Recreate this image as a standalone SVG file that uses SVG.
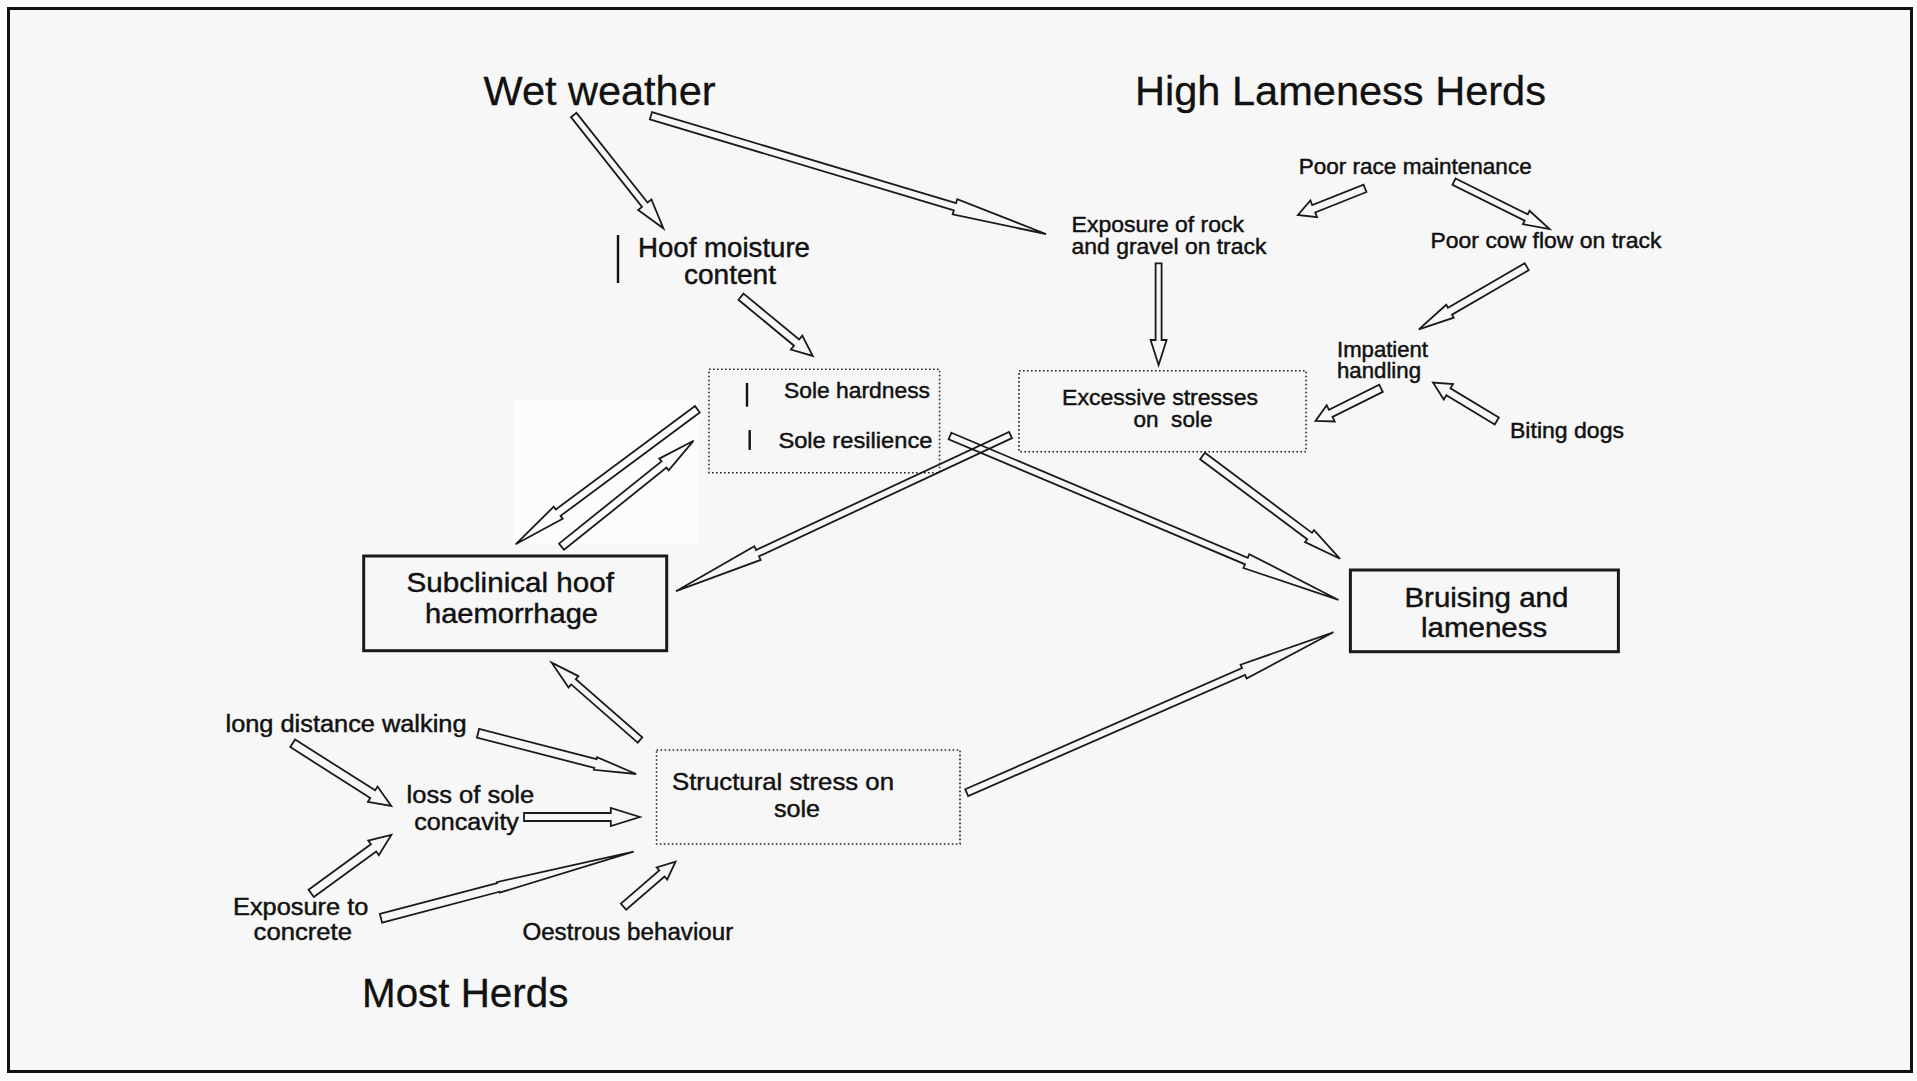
<svg xmlns="http://www.w3.org/2000/svg" width="1917" height="1081" viewBox="0 0 1917 1081">
  <style>
    .t { font-family: "Liberation Sans", Arial, Helvetica, sans-serif; fill: #111; stroke: #111; stroke-width: 0.45; }
    .title { font-size: 41px; stroke-width: 0.3; }
    .arr { fill: none; stroke: #1a1a1a; stroke-width: 1.8; stroke-linejoin: miter; }
    .dot { fill: none; stroke: #222; stroke-width: 1.6; stroke-dasharray: 1.6 2.4; }
    .solid { fill: none; stroke: #1a1a1a; stroke-width: 3; }
    .bar { stroke: #111; stroke-width: 2.4; }
  </style>

  <!-- page and frame -->
  <rect x="0" y="0" width="1917" height="1081" fill="#fbfbfb"/>
  <rect x="8.5" y="8.5" width="1903" height="1063" fill="#f7f7f7" stroke="#111" stroke-width="3"/>
  <rect x="513" y="400" width="185" height="145" fill="#fcfcfc"/>

  <!-- group headings -->
  <text class="t title" x="483.5" y="104.5" textLength="232" lengthAdjust="spacingAndGlyphs">Wet weather</text>
  <text class="t title" x="1135" y="105" textLength="411" lengthAdjust="spacingAndGlyphs">High Lameness Herds</text>
  <text class="t title" x="362" y="1006.7" textLength="206.4" lengthAdjust="spacingAndGlyphs">Most Herds</text>

  <!-- nodes -->
  <g id="hoof-moisture">
    <line class="bar" x1="618" y1="235" x2="618" y2="283" stroke-width="1.8"/>
    <text class="t" font-size="27" x="638" y="256.5" textLength="172" lengthAdjust="spacingAndGlyphs">Hoof moisture</text>
    <text class="t" font-size="27" x="684" y="284" textLength="92" lengthAdjust="spacingAndGlyphs">content</text>
  </g>

  <g id="rock-exposure">
    <text class="t" font-size="22" x="1071.6" y="231.7" textLength="172.4" lengthAdjust="spacingAndGlyphs">Exposure of rock</text>
    <text class="t" font-size="22" x="1071.6" y="254" textLength="194.8" lengthAdjust="spacingAndGlyphs">and gravel on track</text>
  </g>

  <g id="race-maintenance">
    <text class="t" font-size="21.5" x="1298.7" y="174" textLength="233" lengthAdjust="spacingAndGlyphs">Poor race maintenance</text>
  </g>

  <g id="cow-flow">
    <text class="t" font-size="21.5" x="1430.5" y="248.3" textLength="231" lengthAdjust="spacingAndGlyphs">Poor cow flow on track</text>
  </g>

  <g id="impatient-handling">
    <text class="t" font-size="21.5" x="1337" y="356.7" textLength="91" lengthAdjust="spacingAndGlyphs">Impatient</text>
    <text class="t" font-size="21.5" x="1337" y="378" textLength="84" lengthAdjust="spacingAndGlyphs">handling</text>
  </g>

  <g id="biting-dogs">
    <text class="t" font-size="21.5" x="1510" y="438.3" textLength="114" lengthAdjust="spacingAndGlyphs">Biting dogs</text>
  </g>

  <g id="sole-properties">
    <rect class="dot" x="709" y="369.3" width="230.6" height="103.4"/>
    <line class="bar" x1="747" y1="383" x2="747" y2="406.7"/>
    <line class="bar" x1="749.7" y1="430" x2="749.7" y2="450"/>
    <text class="t" font-size="22" x="784" y="398.3" textLength="146" lengthAdjust="spacingAndGlyphs">Sole hardness</text>
    <text class="t" font-size="22" x="778.4" y="448.3" textLength="154" lengthAdjust="spacingAndGlyphs">Sole resilience</text>
  </g>

  <g id="excessive-stresses">
    <rect class="dot" x="1019" y="370.7" width="287" height="81"/>
    <text class="t" font-size="22.5" x="1062" y="404.5" textLength="196" lengthAdjust="spacingAndGlyphs">Excessive stresses</text>
    <text class="t" font-size="22.5" x="1133.5" y="427" textLength="79" lengthAdjust="spacingAndGlyphs" xml:space="preserve">on  sole</text>
  </g>

  <g id="subclinical-haemorrhage">
    <rect class="solid" x="363.7" y="556" width="303" height="94.7"/>
    <text class="t" font-size="28" x="406.5" y="592.3" textLength="207.5" lengthAdjust="spacingAndGlyphs">Subclinical hoof</text>
    <text class="t" font-size="28" x="425" y="622.7" textLength="173" lengthAdjust="spacingAndGlyphs">haemorrhage</text>
  </g>

  <g id="bruising-lameness">
    <rect class="solid" x="1350.4" y="570" width="268" height="81.7"/>
    <text class="t" font-size="28.5" x="1404.4" y="606.7" textLength="164" lengthAdjust="spacingAndGlyphs">Bruising and</text>
    <text class="t" font-size="28.5" x="1421" y="636.7" textLength="126.3" lengthAdjust="spacingAndGlyphs">lameness</text>
  </g>

  <g id="structural-stress">
    <rect class="dot" x="656.6" y="750" width="303.4" height="94"/>
    <text class="t" font-size="24" x="672" y="790" textLength="222" lengthAdjust="spacingAndGlyphs">Structural stress on</text>
    <text class="t" font-size="24" x="774" y="816.7" textLength="46" lengthAdjust="spacingAndGlyphs">sole</text>
  </g>

  <g id="long-distance-walking">
    <text class="t" font-size="23" x="225.5" y="731.7" textLength="241" lengthAdjust="spacingAndGlyphs">long distance walking</text>
  </g>

  <g id="sole-concavity">
    <text class="t" font-size="23" x="406.6" y="803.3" textLength="127.6" lengthAdjust="spacingAndGlyphs">loss of sole</text>
    <text class="t" font-size="23" x="414.3" y="830" textLength="104.6" lengthAdjust="spacingAndGlyphs">concavity</text>
  </g>

  <g id="concrete-exposure">
    <text class="t" font-size="23" x="233" y="915" textLength="135.4" lengthAdjust="spacingAndGlyphs">Exposure to</text>
    <text class="t" font-size="23" x="253.6" y="940" textLength="98.4" lengthAdjust="spacingAndGlyphs">concrete</text>
  </g>

  <g id="oestrous-behaviour">
    <text class="t" font-size="23" x="522.4" y="940" textLength="210.8" lengthAdjust="spacingAndGlyphs">Oestrous behaviour</text>
  </g>

  <!-- connectors: hollow block arrows, each drawn along +x then placed -->
  <g id="connectors">
    <path class="arr" transform="translate(573.7,115) rotate(51.64)" d="M0,-3.5 H114.5 V-8.5 L144.5,0 L114.5,8.5 V3.5 H0 Z"/>
    <path class="arr" transform="translate(650.9,115.7) rotate(16.67)" d="M0,-3.75 H317.4 V-8 L412.4,0 L317.4,8 V3.75 H0 Z"/>
    <path class="arr" transform="translate(1365,188.3) rotate(158.3)" d="M0,-4 H55.2 V-9 L72.2,0 L55.2,9 V4 H0 Z"/>
    <path class="arr" transform="translate(1454,181.7) rotate(26.35)" d="M0,-3.5 H80.6 V-7.5 L106.6,0 L80.6,7.5 V3.5 H0 Z"/>
    <path class="arr" transform="translate(1526.7,266.7) rotate(149.86)" d="M0,-4 H88.7 V-7.5 L124.7,0 L88.7,7.5 V4 H0 Z"/>
    <path class="arr" transform="translate(1158.6,263.3) rotate(90)" d="M0,-3 H76.7 V-8 L101.7,0 L76.7,8 V3 H0 Z"/>
    <path class="arr" transform="translate(1381,388.3) rotate(153.47)" d="M0,-4 H56.2 V-9 L73.2,0 L56.2,9 V4 H0 Z"/>
    <path class="arr" transform="translate(1496.8,421) rotate(-148.89)" d="M0,-4 H56.5 V-9 L74.5,0 L56.5,9 V4 H0 Z"/>
    <path class="arr" transform="translate(741,296.7) rotate(39.55)" d="M0,-4 H72.1 V-9 L93.1,0 L72.1,9 V4 H0 Z"/>
    <path class="arr" transform="translate(697.4,409.3) rotate(143.4)" d="M0,-4 H173.4 V-7.5 L226.4,0 L173.4,7.5 V4 H0 Z"/>
    <path class="arr" transform="translate(561.5,546.7) rotate(-38.74)" d="M0,-4 H131.4 V-7.5 L169.4,0 L131.4,7.5 V4 H0 Z"/>
    <path class="arr" transform="translate(1010.5,435) rotate(154.97)" d="M0,-3.5 H279.2 V-7.5 L369.2,0 L279.2,7.5 V3.5 H0 Z"/>
    <path class="arr" transform="translate(950,436) rotate(22.88)" d="M0,-3.5 H321.7 V-7.5 L421.7,0 L321.7,7.5 V3.5 H0 Z"/>
    <path class="arr" transform="translate(1202.5,456) rotate(36.78)" d="M0,-4 H133.7 V-7.5 L171.7,0 L133.7,7.5 V4 H0 Z"/>
    <path class="arr" transform="translate(966.7,792.7) rotate(-23.63)" d="M0,-3.75 H302.2 V-7.5 L400.2,0 L302.2,7.5 V3.75 H0 Z"/>
    <path class="arr" transform="translate(640,740) rotate(-138.8)" d="M0,-3.5 H88.4 V-7.5 L117.4,0 L88.4,7.5 V3.5 H0 Z"/>
    <path class="arr" transform="translate(478,733.3) rotate(14.43)" d="M0,-4.5 H121.3 V-6.5 L163.3,0 L121.3,6.5 V4.5 H0 Z"/>
    <path class="arr" transform="translate(292.7,743.3) rotate(32.45)" d="M0,-4.5 H94.8 V-9 L116.8,0 L94.8,9 V4.5 H0 Z"/>
    <path class="arr" transform="translate(524,817)" d="M0,-4 H86.8 V-9 L115.8,0 L86.8,9 V4 H0 Z"/>
    <path class="arr" transform="translate(311.2,893.3) rotate(-36.05)" d="M0,-4.5 H77.1 V-9 L99.1,0 L77.1,9 V4.5 H0 Z"/>
    <path class="arr" transform="translate(381,918.3) rotate(-14.76)" d="M0,-4.5 H121.3 V-5.5 L261.3,0 L121.3,5.5 V4.5 H0 Z"/>
    <path class="arr" transform="translate(623.5,906.7) rotate(-40.87)" d="M0,-4 H50.8 V-8 L68.8,0 L50.8,8 V4 H0 Z"/>
  </g>
</svg>
